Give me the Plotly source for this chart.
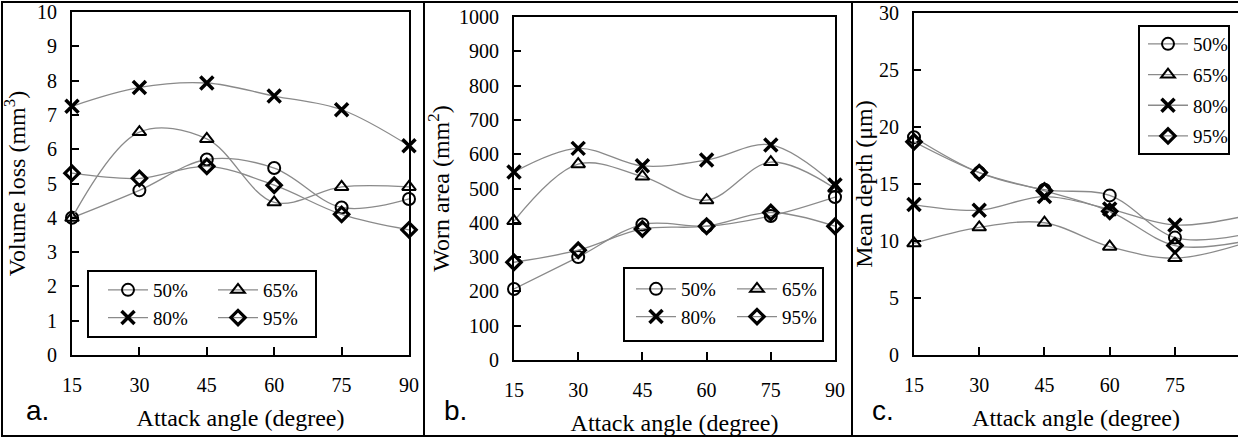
import plotly.graph_objects as go

# ---------------- data ----------------
angles = [15, 30, 45, 60, 75, 90]
series_names = ["50%", "65%", "80%", "95%"]

# panel a: volume loss (mm^3)
vol_50 = [4.0, 4.8, 5.7, 5.45, 4.3, 4.55]
vol_65 = [4.0, 6.5, 6.3, 4.45, 4.9, 4.9]
vol_80 = [7.25, 7.8, 7.93, 7.55, 7.15, 6.1]
vol_95 = [5.3, 5.15, 5.5, 4.95, 4.1, 3.65]

# panel b: worn area (mm^2)
area_50 = [207, 300, 395, 390, 420, 475]
area_65 = [405, 571, 535, 466, 577, 500]
area_80 = [548, 617, 566, 583, 627, 510]
area_95 = [285, 320, 382, 390, 430, 390]

# panel c: mean depth (um)
depth_50 = [19.1, 16.0, 14.5, 14.0, 10.3, 10.5]
depth_65 = [9.8, 11.2, 11.6, 9.5, 8.5, 9.7]
depth_80 = [13.2, 12.7, 13.9, 12.8, 11.4, 12.1]
depth_95 = [18.7, 16.0, 14.4, 12.6, 9.6, 9.9]

x_ticks = [15, 30, 45, 60, 75, 90]

# ---------------- style ----------------
SERIF = "Liberation Serif"
W, H = 1238, 438
symbols = {"50%": "circle-open", "65%": "triangle-up-open",
           "80%": "x-thin-open", "95%": "diamond-open"}
msize = {"50%": 12, "65%": 12, "80%": 13, "95%": 11}
mlw = {"50%": 2, "65%": 2, "80%": 3.5, "95%": 3.2}


def px_x(p):
    return p / W


def px_y(p):
    return 1 - p / H


fig = go.Figure()

panels = [
    ("x", "y", "legend", [vol_50, vol_65, vol_80, vol_95], "a"),
    ("x2", "y2", "legend2", [area_50, area_65, area_80, area_95], "b"),
    ("x3", "y3", "legend3", [depth_50, depth_65, depth_80, depth_95], "c"),
]

for xa, ya, lg, vals, tag in panels:
    for i, (name, v) in enumerate(zip(series_names, vals)):
        if tag == "c":
            group = tag + str(i)
        else:
            group = tag + ("1" if name in ("50%", "80%") else "2")
        fig.add_trace(go.Scatter(
            x=angles, y=v, name=name, xaxis=xa, yaxis=ya, legend=lg,
            legendgroup=group,
            mode="lines+markers",
            line=dict(color="#8a8a8a", width=1.3, shape="spline", smoothing=1.0),
            marker=dict(symbol=symbols[name], size=msize[name], color="black",
                        line=dict(color="black", width=mlw[name])),
            cliponaxis=False,
        ))

tickfont = dict(family=SERIF, size=20, color="black")
titlefont = dict(family=SERIF, size=24, color="black")
legfont = dict(family=SERIF, size=19, color="black")

common_x = dict(tickmode="array", tickvals=x_ticks, ticks="inside", ticklen=8,
                tickwidth=2, tickcolor="black", showline=True, linecolor="black",
                linewidth=2, mirror=True, showgrid=False, zeroline=False,
                tickfont=tickfont, ticklabelstandoff=11, automargin=False,
                title=dict(text="Attack angle (degree)", font=titlefont, standoff=14))
common_y = dict(ticks="inside", ticklen=7, tickwidth=2, tickcolor="black",
                showline=True, linecolor="black", linewidth=2, mirror=True,
                showgrid=False, zeroline=False, tickfont=tickfont,
                ticklabelstandoff=9, automargin=False)

leg_common = dict(xanchor="left", yanchor="top", borderwidth=0, bgcolor="rgba(0,0,0,0)",
                  font=legfont, itemwidth=40)

fig.update_layout(
    width=W, height=H, margin=dict(l=0, r=0, t=0, b=0, autoexpand=False),
    paper_bgcolor="white", plot_bgcolor="white",
    font=dict(family=SERIF, color="black"),
    xaxis=dict(common_x, domain=[px_x(72), px_x(409)], range=[15, 90], anchor="y"),
    yaxis=dict(common_y, domain=[px_y(355), px_y(12)], range=[0, 10], dtick=1,
               anchor="x", title=dict(text="Volume loss (mm<sup>3</sup>)", font=titlefont, standoff=10)),
    xaxis2=dict(common_x, domain=[px_x(514), px_x(835)], range=[15, 90], anchor="y2"),
    yaxis2=dict(common_y, domain=[px_y(360), px_y(17)], range=[0, 1000], dtick=100,
                anchor="x2", title=dict(text="Worn area (mm<sup>2</sup>)", font=titlefont, standoff=3)),
    xaxis3=dict(common_x, domain=[px_x(914), 1.0], range=[15, 89.5], anchor="y3"),
    yaxis3=dict(common_y, domain=[px_y(355), px_y(13)], range=[0, 30], dtick=5,
                anchor="x3", title=dict(text="Mean depth (μm)", font=titlefont, standoff=0)),
    legend=dict(leg_common, x=px_x(103), y=px_y(271), orientation="h",
                entrywidth=55, entrywidthmode="pixels"),
    legend2=dict(leg_common, x=px_x(631), y=px_y(270), orientation="h",
                 entrywidth=46, entrywidthmode="pixels"),
    legend3=dict(leg_common, x=px_x(1143), y=px_y(25), orientation="v", tracegroupgap=3),
    showlegend=True,
)

# legend frames
for x0, x1, y0, y1 in [(88, 316, 271, 337), (624, 823, 268, 341), (1139, 1229, 26, 154)]:
    fig.add_shape(type="rect", xref="paper", yref="paper",
                  x0=px_x(x0), x1=px_x(x1), y0=px_y(y1), y1=px_y(y0),
                  line=dict(color="black", width=2), fillcolor="white", layer="below")

# panel frames
for x0, x1 in [(2, 424), (424, 852), (852, 1240)]:
    fig.add_shape(type="rect", xref="paper", yref="paper",
                  x0=px_x(x0), x1=px_x(x1), y0=px_y(436), y1=px_y(2),
                  line=dict(color="black", width=2), layer="above")

# panel letters
for lbl, cx in [("a.", 37), ("b.", 455), ("c.", 883)]:
    fig.add_annotation(text=lbl, xref="paper", yref="paper", x=px_x(cx), y=px_y(410),
                       xanchor="center", yanchor="middle", showarrow=False,
                       font=dict(family="Liberation Sans", size=28, color="black"))

fig.write_html("out.html", config={"displayModeBar": False},
               post_script="document.body.style.margin='0';document.body.style.padding='0';")
